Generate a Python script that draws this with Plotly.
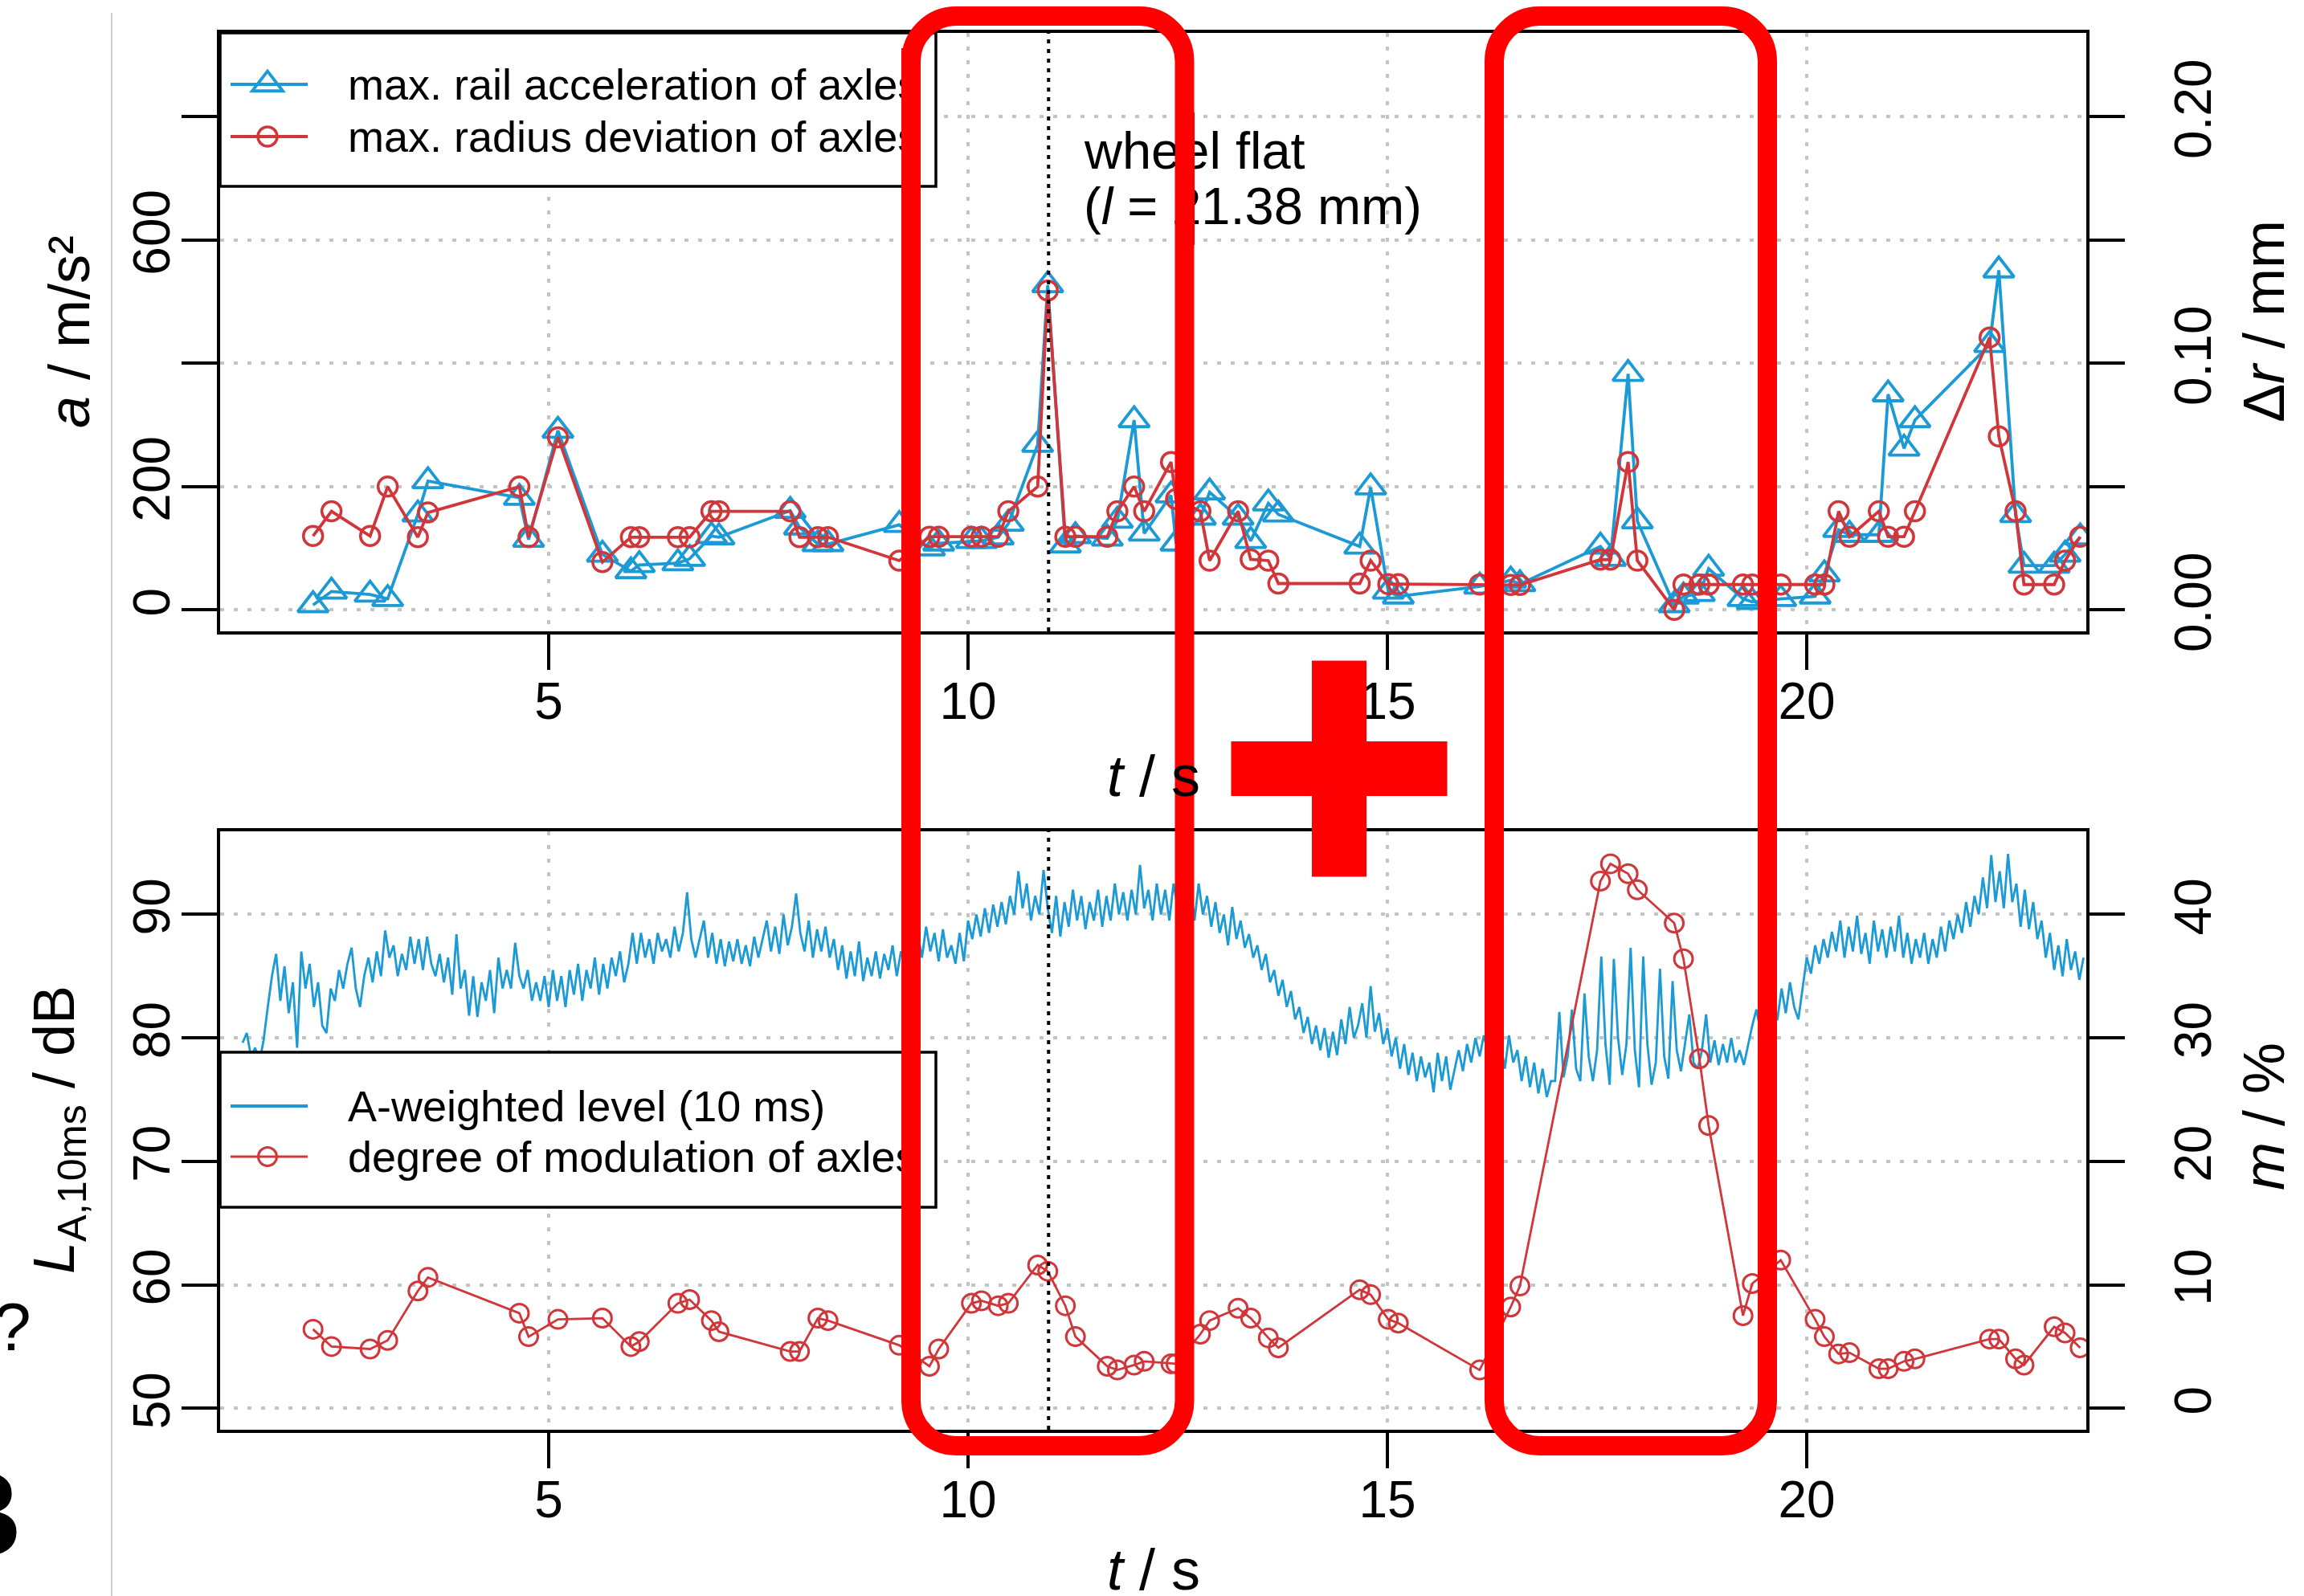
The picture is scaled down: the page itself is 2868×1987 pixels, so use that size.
import plotly.graph_objects as go

# ---------------------------------------------------------------- data
# passing times of the axles (s)
axle_t = [2.19, 2.41, 2.87, 3.08, 3.44, 3.56, 4.65, 4.76, 5.11, 5.64,
          5.98, 6.08, 6.54, 6.68, 6.94, 7.03, 7.88, 7.99, 8.21, 8.33,
          9.18, 9.54, 9.65, 10.04, 10.16, 10.36, 10.48, 10.83, 10.95, 11.16,
          11.28, 11.66, 11.78, 11.98, 12.10, 12.42, 12.48, 12.77, 12.88, 13.22,
          13.37, 13.58, 13.70, 14.67, 14.80, 15.01, 15.13, 16.10, 16.47, 16.58,
          17.54, 17.66, 17.87, 17.98, 18.42, 18.53, 18.72, 18.83, 19.24, 19.35,
          19.69, 20.10, 20.21, 20.38, 20.51, 20.86, 20.97, 21.16, 21.29, 22.18,
          22.29, 22.49, 22.59, 22.95, 23.08, 23.26]

# max. rail acceleration per axle (m/s^2)
rail_acc = [8, 30, 25, 18, 155, 209, 182, 114, 291, 90,
            63, 73, 76, 83, 120, 118, 161, 134, 107, 107,
            138, 100, 108, 112, 112, 118, 140, 268, 527, 105,
            120, 116, 145, 308, 124, 186, 108, 150, 191, 150,
            112, 173, 155, 103, 199, 30, 22, 38, 48, 42,
            103, 83, 383, 144, 8, 22, 26, 67, 18, 13,
            18, 22, 58, 130, 122, 122, 350, 262, 308, 430,
            551, 154, 72, 72, 90, 118]

# max. radius deviation per axle (mm)
radius_dev = [0.030, 0.040, 0.030, 0.050, 0.0295, 0.0395, 0.050, 0.0295, 0.070, 0.0194,
              0.0295, 0.0295, 0.0295, 0.0295, 0.040, 0.040, 0.040, 0.0295, 0.0295, 0.0295,
              0.020, 0.0297, 0.0297, 0.0297, 0.0297, 0.0297, 0.040, 0.050, 0.1295, 0.0297,
              0.0297, 0.0297, 0.040, 0.050, 0.040, 0.060, 0.045, 0.040, 0.020, 0.040,
              0.0205, 0.020, 0.0107, 0.0107, 0.020, 0.0105, 0.0105, 0.0103, 0.0101, 0.0101,
              0.0204, 0.0204, 0.060, 0.020, 0.000, 0.0103, 0.0103, 0.0103, 0.0103, 0.0103,
              0.0103, 0.0103, 0.0103, 0.040, 0.0297, 0.040, 0.0297, 0.0297, 0.040, 0.1105,
              0.0704, 0.040, 0.0103, 0.0103, 0.020, 0.0297]

# degree of modulation per axle (%)
modulation = [6.4, 5.0, 4.8, 5.5, 9.5, 10.6, 7.7, 5.8, 7.2, 7.3,
              5.0, 5.4, 8.5, 8.8, 7.1, 6.2, 4.6, 4.6, 7.3, 7.1,
              5.1, 3.4, 4.8, 8.5, 8.7, 8.3, 8.5, 11.6, 11.1, 8.3,
              5.8, 3.4, 3.1, 3.5, 3.8, 3.6, 3.6, 6.0, 7.1, 8.1,
              7.3, 5.7, 4.9, 9.6, 9.2, 7.2, 6.9, 3.1, 8.2, 9.9,
              42.7, 44.1, 43.3, 42.0, 39.3, 36.4, 28.3, 22.9, 7.5, 10.1,
              12.0, 7.2, 5.8, 4.4, 4.5, 3.2, 3.2, 3.8, 4.0, 5.6,
              5.6, 4.0, 3.5, 6.6, 6.1, 4.9]

# A-weighted level, read every 0.05 s starting at 1.35 s (dB)
level_t0 = 1.35
level_dt = 0.05
level_db = [
    79.6, 80.4, 78.5, 79.2, 78.0, 79.8, 82.5, 85.0, 86.8, 83.0, 85.8, 82.0, 84.5, 79.2, 87.0, 84.0, 86.0, 82.5, 84.5, 81.0,
    80.4, 84.0, 83.0, 85.5, 84.0, 86.0, 87.3, 84.0, 82.5, 85.0, 86.5, 84.5, 87.0, 85.0, 88.7, 86.5, 87.5, 85.0, 86.8, 85.5,
    88.2, 86.0, 88.0, 85.5, 88.2, 86.0, 85.0, 86.8, 84.5, 86.5, 83.5, 88.4, 84.0, 85.5, 81.8, 85.0, 81.7, 84.5, 83.0, 85.5,
    82.0, 86.5, 84.0, 85.5, 84.0, 87.7, 85.0, 84.0, 85.5, 83.0, 84.5, 83.0, 85.0, 82.5, 85.5, 83.0, 85.0, 82.5, 85.5, 83.5,
    86.0, 83.0, 85.5, 84.0, 86.5, 83.5, 86.0, 84.0, 86.5, 85.0, 87.0, 84.5, 86.0, 88.5, 86.0, 88.5, 86.5, 88.0, 86.0, 88.5,
    87.0, 88.0, 86.5, 89.0, 87.0, 88.5, 91.8, 88.0, 86.5, 88.0, 89.5, 86.5, 88.5, 86.0, 88.0, 85.8, 87.8, 86.2, 88.0, 86.0,
    87.5, 85.8, 88.2, 86.5, 88.0, 89.5, 87.0, 89.0, 86.8, 90.0, 87.5, 89.0, 91.7, 88.5, 87.0, 89.5, 86.5, 88.8, 87.0, 89.0,
    86.5, 88.0, 85.5, 87.5, 84.8, 87.0, 85.0, 87.8, 84.6, 86.5, 85.0, 87.0, 84.8, 86.8, 85.5, 87.5, 85.0, 87.0, 86.0, 88.0,
    86.0, 88.5, 86.5, 89.0, 87.0, 88.5, 86.2, 88.8, 86.5, 87.5, 86.0, 88.5, 86.2, 89.5, 88.0, 90.0, 88.2, 90.5, 88.5, 90.8,
    89.0, 91.0, 89.2, 91.5, 90.0, 93.5, 90.5, 92.5, 89.5, 91.5, 90.0, 93.6, 90.5, 88.5, 91.5, 88.2, 91.0, 89.0, 92.0, 89.5,
    91.5, 88.8, 91.0, 89.5, 92.0, 89.0, 91.5, 89.5, 92.5, 90.0, 91.8, 89.5, 92.0, 90.0, 94.0, 90.5, 92.0, 89.5, 92.5, 90.0,
    92.0, 89.5, 92.5, 90.5, 92.0, 90.0, 92.5, 89.5, 92.5, 90.0, 91.5, 89.0, 91.0, 88.5, 90.0, 87.5, 90.6, 88.0, 89.5, 87.3,
    88.4, 86.5, 87.5, 85.5, 86.8, 84.5, 85.5, 83.4, 84.7, 82.5, 83.8, 81.5, 82.5, 80.4, 81.7, 79.5, 81.0, 79.0, 80.8, 78.4,
    80.5, 78.6, 81.5, 79.5, 82.5, 80.0, 81.0, 82.8, 80.0, 84.2, 80.5, 82.0, 79.5, 80.8, 78.5, 80.0, 77.5, 79.5, 77.0, 78.8,
    76.5, 78.5, 76.8, 78.0, 75.6, 78.8, 76.5, 78.5, 75.8, 77.5, 79.0, 77.3, 79.5, 78.0, 80.0, 78.5, 80.2, 78.8, 80.0, 78.0,
    79.5, 77.5, 80.2, 78.0, 79.0, 76.5, 78.5, 76.0, 78.0, 75.5, 77.5, 75.2, 76.5, 76.5, 82.1, 76.8, 78.5, 82.3, 77.5, 76.5,
    83.6, 78.5, 76.5, 79.0, 86.6, 79.5, 76.2, 86.4, 80.0, 77.0, 79.5, 87.3, 79.0, 76.0, 86.6, 79.5, 76.2, 78.0, 85.6, 78.5,
    76.7, 84.6, 79.0, 77.3, 79.5, 81.9, 78.0, 77.5, 79.0, 81.9, 78.0, 79.8, 77.8, 79.5, 78.0, 80.0, 78.0, 79.0, 77.8, 79.5,
    81.0, 82.3, 80.5, 82.0, 80.8, 81.5, 81.5, 84.0, 82.0, 84.5, 82.5, 81.5, 84.0, 86.5, 85.2, 87.5, 86.0, 88.0, 86.5, 88.6,
    87.0, 89.5, 86.5, 89.0, 87.0, 89.9, 86.8, 88.5, 86.0, 89.5, 87.0, 88.8, 86.5, 89.0, 87.0, 89.9, 86.5, 88.5, 86.0, 88.0,
    86.5, 88.5, 86.0, 88.0, 86.5, 89.0, 87.0, 89.5, 88.0, 90.0, 88.5, 91.0, 89.0, 91.5, 90.0, 93.0, 90.5, 94.8, 91.0, 93.5,
    90.5, 94.9, 91.0, 92.5, 89.0, 92.0, 88.8, 91.0, 88.0, 89.5, 86.5, 88.5, 85.5, 87.5, 85.0, 88.0, 85.5, 87.0, 84.7, 86.5,
]
level_t = [round(level_t0 + i * level_dt, 3) for i in range(len(level_db))]

wheel_flat_t = 10.96

t_ticks = [5, 10, 15, 20]
acc_ticks = [0, 200, 400, 600, 800]
acc_labels = ["0", "200", "", "600", ""]
dr_ticks = [0.0, 0.05, 0.10, 0.15, 0.20]
dr_labels = ["0.00", "", "0.10", "", "0.20"]
level_ticks = [50, 60, 70, 80, 90]
mod_ticks = [0, 10, 20, 30, 40]

# ---------------------------------------------------------------- style
W, H = 2868, 1987
FONT = "Liberation Sans, Arial, Helvetica, sans-serif"
BLUE = "#1B9AD6"
RED = "#D0363A"
MARK = "#FF0000"
GRID = "#C4C4C4"
TICK_SIZE = 64
TITLE_SIZE = 72
LEG_SIZE = 54
NOTE_SIZE = 65


def px(x):
    return x / W


def py(y):
    return 1 - y / H


# plot frames (pixels)
L, R = 274, 2597
TOP_T, TOP_B = 41, 786
BOT_T, BOT_B = 1035, 1780

T_RANGE = [1.082, 23.333]
ACC_RANGE = [-34.7, 936.0]
DR_RANGE = [ACC_RANGE[0] / 4000, ACC_RANGE[1] / 4000]
LV_RANGE = [48.26, 96.73]
MOD_RANGE = [LV_RANGE[0] - 50, LV_RANGE[1] - 50]

fig = go.Figure()

fig.add_trace(go.Scatter(
    x=axle_t, y=rail_acc, xaxis="x", yaxis="y", mode="lines+markers",
    line=dict(color=BLUE, width=3.8),
    marker=dict(symbol="triangle-up-open", size=33, color=BLUE, line=dict(width=3.8, color=BLUE)),
    showlegend=False, hoverinfo="skip"))
fig.add_trace(go.Scatter(
    x=axle_t, y=radius_dev, xaxis="x", yaxis="y2", mode="lines+markers",
    line=dict(color=RED, width=3.8),
    marker=dict(symbol="circle-open", size=24, color=RED, line=dict(width=3.5, color=RED)),
    showlegend=False, hoverinfo="skip"))
fig.add_trace(go.Scatter(
    x=level_t, y=level_db, xaxis="x2", yaxis="y3", mode="lines",
    line=dict(color=BLUE, width=2.8),
    showlegend=False, hoverinfo="skip"))
fig.add_trace(go.Scatter(
    x=axle_t, y=modulation, xaxis="x2", yaxis="y4", mode="lines+markers",
    line=dict(color=RED, width=2.8),
    marker=dict(symbol="circle-open", size=23, color=RED, line=dict(width=3.0, color=RED)),
    showlegend=False, hoverinfo="skip"))

frame = dict(showline=True, linecolor="black", linewidth=3.5, mirror=True,
             ticks="outside", ticklen=44, tickwidth=3.5, tickcolor="black",
             tickfont=dict(family=FONT, size=TICK_SIZE, color="black"),
             zeroline=False, fixedrange=True)
grid = dict(showgrid=True, gridcolor=GRID, gridwidth=4, griddash="5px,12px")

fig.update_layout(
    width=W, height=H, autosize=False,
    margin=dict(l=0, r=0, t=0, b=0, pad=0, autoexpand=False),
    paper_bgcolor="white", plot_bgcolor="white",
    showlegend=False,
    xaxis=dict(domain=[px(L), px(R)], range=T_RANGE, anchor="y",
               tickvals=t_ticks, ticklabelstandoff=-16, **frame, **grid),
    yaxis=dict(domain=[py(TOP_B), py(TOP_T)], range=ACC_RANGE, anchor="x",
               tickvals=acc_ticks, ticktext=acc_labels, tickangle=-90,
               ticklabelstandoff=-10, **frame, **grid),
    yaxis2=dict(range=DR_RANGE, overlaying="y", side="right", anchor="x",
                tickvals=dr_ticks, ticktext=dr_labels, tickangle=-90,
                ticklabelstandoff=30, showgrid=False, **frame),
    xaxis2=dict(domain=[px(L), px(R)], range=T_RANGE, anchor="y3",
                tickvals=t_ticks, ticklabelstandoff=-16, **frame, **grid),
    yaxis3=dict(domain=[py(BOT_B), py(BOT_T)], range=LV_RANGE, anchor="x2",
                tickvals=level_ticks, tickangle=-90, ticklabelstandoff=-10,
                **frame, **grid),
    yaxis4=dict(range=MOD_RANGE, overlaying="y3", side="right", anchor="x2",
                tickvals=mod_ticks, tickangle=-90, ticklabelstandoff=30,
                showgrid=False, **frame),
)

shapes = []
annotations = []


def text(x, y, s, size, angle=0, xanchor="center", yanchor="middle", bold=False, align="center"):
    annotations.append(dict(
        x=px(x), y=py(y), xref="paper", yref="paper", text=s, showarrow=False,
        textangle=angle, xanchor=xanchor, yanchor=yanchor, borderpad=0, align=align,
        font=dict(family=FONT, size=size, color="black",
                  weight="bold" if bold else "normal")))


# wheel-flat marker line in both panels
for xr, yr in (("x", "y domain"), ("x2", "y3 domain")):
    shapes.append(dict(type="line", xref=xr, yref=yr, x0=wheel_flat_t, x1=wheel_flat_t,
                       y0=0, y1=1, layer="above",
                       line=dict(color="black", width=4, dash="5px,7px")))

# legend boxes
for y0, y1 in ((TOP_T, 232), (1310, 1503)):
    shapes.append(dict(type="rect", xref="paper", yref="paper",
                       x0=px(L), x1=px(1165), y0=py(y1), y1=py(y0),
                       fillcolor="white", line=dict(color="black", width=3.5), layer="above"))


def legend_line(y, color, width):
    shapes.append(dict(type="line", xref="paper", yref="paper", x0=px(287), x1=px(383),
                       y0=py(y), y1=py(y), line=dict(color=color, width=width), layer="above"))


def legend_circle(y, color, d, width):
    shapes.append(dict(type="circle", xref="paper", yref="paper",
                       x0=px(333 - d / 2), x1=px(333 + d / 2), y0=py(y + d / 2), y1=py(y - d / 2),
                       fillcolor="rgba(0,0,0,0)", line=dict(color=color, width=width), layer="above"))


def legend_triangle(y, color, size, width):
    rt = size / 2 * 1.1547
    r = size / 2
    pts = [(333 - rt, y + r / 2), (333 + rt, y + r / 2), (333, y - r)]
    path = "M" + " L".join(f"{px(a):.6f},{py(b):.6f}" for a, b in pts) + " Z"
    shapes.append(dict(type="path", xref="paper", yref="paper", path=path,
                       fillcolor="rgba(0,0,0,0)", line=dict(color=color, width=width), layer="above"))


legend_line(105, BLUE, 3.8)
legend_triangle(105, BLUE, 33, 3.8)
legend_line(170, RED, 3.8)
legend_circle(170, RED, 24, 3.5)
legend_line(1377, BLUE, 3.8)
legend_line(1440, RED, 3.0)
legend_circle(1440, RED, 23, 3.0)

text(432, 105, "max. rail acceleration of axles", LEG_SIZE, xanchor="left")
text(432, 170, "max. radius deviation of axles", LEG_SIZE, xanchor="left")
text(432, 1377, "A-weighted level (10 ms)", LEG_SIZE, xanchor="left")
text(432, 1440, "degree of modulation of axles", LEG_SIZE, xanchor="left")

# wheel-flat note
text(1348, 188, "wheel flat", NOTE_SIZE, xanchor="left")
text(1348, 256, "(<i>l</i> = 21.38 mm)", NOTE_SIZE, xanchor="left")

# axis titles
text(86, 413, "<i>a</i> / m/s²", TITLE_SIZE, angle=-90)
text(2818, 400, "Δ<i>r</i> / mm", TITLE_SIZE, angle=-90)
text(1436, 966, "<i>t</i> / s", TITLE_SIZE)
text(72, 1407, "<i>L</i><sub>A,10ms</sub> / dB", TITLE_SIZE, angle=-90)
text(2818, 1390, "<i>m</i> / %", TITLE_SIZE, angle=-90)
text(1436, 1954, "<i>t</i> / s", TITLE_SIZE)

# neighbouring panel fragments at the left edge
shapes.append(dict(type="line", xref="paper", yref="paper", x0=px(139), x1=px(139),
                   y0=py(16), y1=0, line=dict(color="#D0D0D0", width=2), layer="above"))
text(40, 1652, "?", 84, xanchor="right")
text(28, 1885, "B", 150, xanchor="right", bold=True)


# highlight frames and plus sign
def rounded_rect(x0, y0, x1, y1, r):
    k = 0.5523 * r
    P = lambda a, b: f"{px(a):.6f},{py(b):.6f}"
    return (f"M{P(x0 + r, y0)} L{P(x1 - r, y0)} "
            f"C{P(x1 - r + k, y0)} {P(x1, y0 + r - k)} {P(x1, y0 + r)} "
            f"L{P(x1, y1 - r)} C{P(x1, y1 - r + k)} {P(x1 - r + k, y1)} {P(x1 - r, y1)} "
            f"L{P(x0 + r, y1)} C{P(x0 + r - k, y1)} {P(x0, y1 - r + k)} {P(x0, y1 - r)} "
            f"L{P(x0, y0 + r)} C{P(x0, y0 + r - k)} {P(x0 + r - k, y0)} {P(x0 + r, y0)} Z")


for x0, x1 in ((1134, 1474.5), (1860, 2200)):
    shapes.append(dict(type="path", xref="paper", yref="paper",
                       path=rounded_rect(x0, 20, x1, 1800, 56),
                       fillcolor="rgba(0,0,0,0)", line=dict(color=MARK, width=24), layer="above"))

cx, cy, arm, half = 1667, 957, 134.5, 34
plus_pts = [(cx - half, cy - arm), (cx + half, cy - arm), (cx + half, cy - half), (cx + arm, cy - half),
            (cx + arm, cy + half), (cx + half, cy + half), (cx + half, cy + arm), (cx - half, cy + arm),
            (cx - half, cy + half), (cx - arm, cy + half), (cx - arm, cy - half), (cx - half, cy - half)]
shapes.append(dict(type="path", xref="paper", yref="paper",
                   path="M" + " L".join(f"{px(a):.6f},{py(b):.6f}" for a, b in plus_pts) + " Z",
                   fillcolor=MARK, line=dict(width=0), layer="above"))

# frame segments that run across text lie on top of it
for x0, x1, y0, y1 in ((1122, 1146, 60, 225), (1122, 1146, 1330, 1495), (1462.5, 1486.5, 140, 305)):
    annotations.append(dict(x=px(x0), y=py(y0), xref="paper", yref="paper", text=" ",
                            showarrow=False, xanchor="left", yanchor="top",
                            width=x1 - x0, height=y1 - y0, bgcolor=MARK,
                            borderpad=0, borderwidth=0))

fig.update_layout(shapes=shapes, annotations=annotations)
fig.write_html("out.html")
